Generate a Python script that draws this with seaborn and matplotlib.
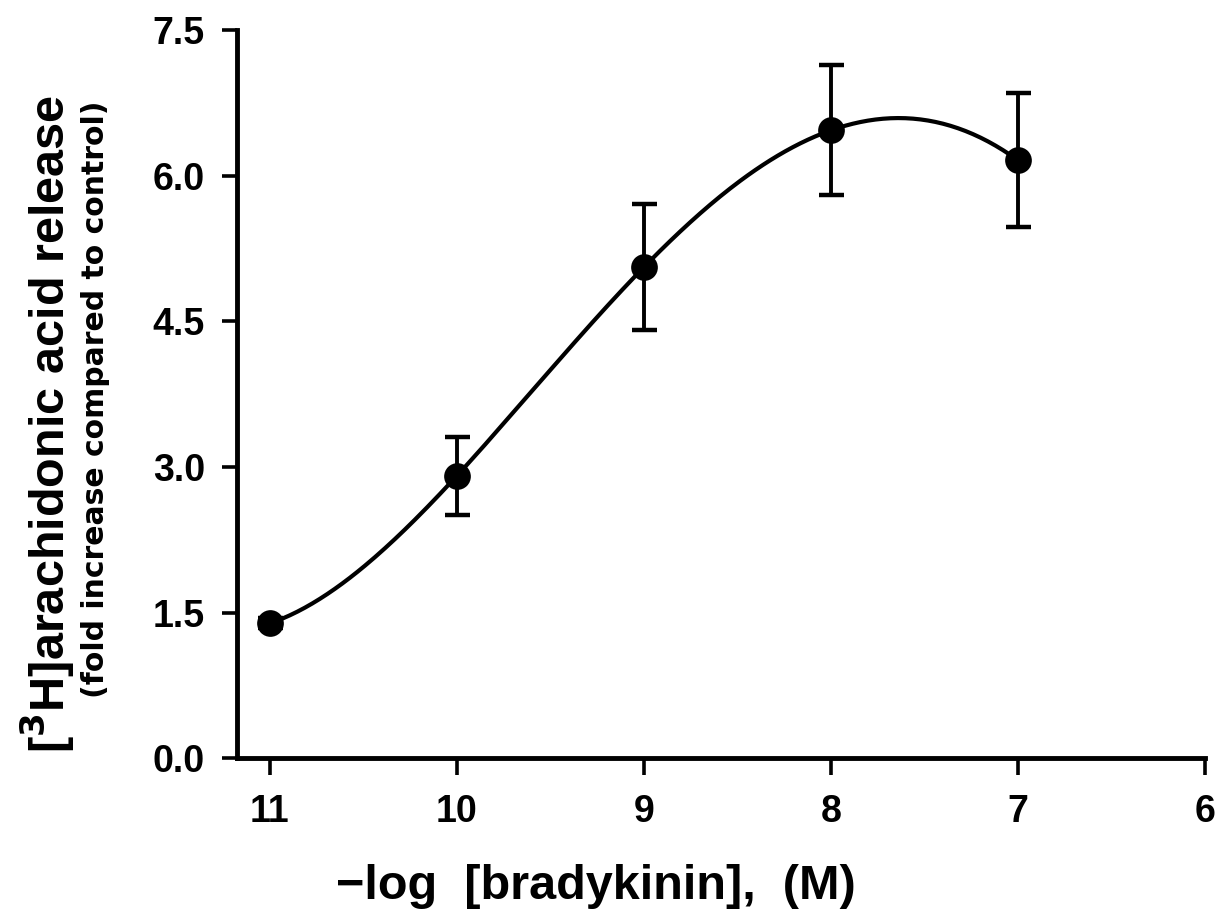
import numpy as np
import pandas as pd
import seaborn as sns
import matplotlib
matplotlib.use("Agg")
import matplotlib.pyplot as plt

# -log [bradykinin] (M) and fold increase in [3H]arachidonic acid release
log_bk = [11, 10, 9, 8, 7]
release = [1.39, 2.91, 5.06, 6.47, 6.16]
sem = [0.05, 0.40, 0.65, 0.67, 0.69]

x_ticks = [11, 10, 9, 8, 7, 6]
y_ticks = [0.0, 1.5, 3.0, 4.5, 6.0, 7.5]

data = pd.DataFrame({"log_bk": log_bk, "release": release, "err": sem})

# smooth curve through the means (polynomial through the points)
coef = np.polyfit(data["log_bk"], data["release"], 4)
xs = np.linspace(max(log_bk), min(log_bk), 300)
curve = pd.DataFrame({"log_bk": xs, "release": np.polyval(coef, xs)})

sns.set_style("ticks", {"axes.edgecolor": "black", "xtick.color": "black",
                        "ytick.color": "black", "text.color": "black"})
plt.rcParams["font.family"] = ["Liberation Sans", "DejaVu Sans"]
plt.rcParams["font.weight"] = "bold"
plt.rcParams["text.color"] = "black"

fig = plt.figure(figsize=(12.21, 9.18), dpi=100)
ax = fig.add_axes([0.194, 0.174, 0.793, 0.793])

sns.lineplot(data=curve, x="log_bk", y="release", color="black", linewidth=3, ax=ax)
ax.errorbar(data["log_bk"], data["release"], yerr=data["err"], fmt="none", ecolor="black",
            elinewidth=2.8, capsize=9, capthick=3.2)
sns.scatterplot(data=data, x="log_bk", y="release", color="black", s=370,
                linewidth=0, zorder=5, ax=ax)

ax.set_xlim(11.176, 6)
ax.set_ylim(0, 7.5)
ax.set_xticks(x_ticks)
ax.set_xticklabels([str(t) for t in x_ticks])
ax.set_yticks(y_ticks)
ax.set_yticklabels([f"{t:.1f}" for t in y_ticks])

for side in ["top", "right"]:
    ax.spines[side].set_visible(False)
for side in ["left", "bottom"]:
    ax.spines[side].set_linewidth(3.5)
    ax.spines[side].set_color("black")
ax.tick_params(axis="both", direction="out", width=2.6, labelsize=27, colors="black")
ax.tick_params(axis="x", length=12, pad=14)
ax.tick_params(axis="y", length=11, pad=12)

ax.set_xlabel("")
ax.set_ylabel("")
fig.text(0.488, 0.034, "\u2212log  [bradykinin],  (M)", fontsize=35, fontweight="bold",
         color="black", ha="center", va="center")
fig.text(0.039, 0.538, "[$^{\\mathbf{3}}$H]arachidonic acid release", rotation=90,
         fontsize=35, fontweight="bold", color="black", ha="center", va="center")
fig.text(0.078, 0.565, "(fold increase compared to control)", rotation=90,
         fontsize=21.5, fontweight="bold", family="DejaVu Sans", color="black",
         ha="center", va="center")

fig.savefig("out.png", dpi=100)
